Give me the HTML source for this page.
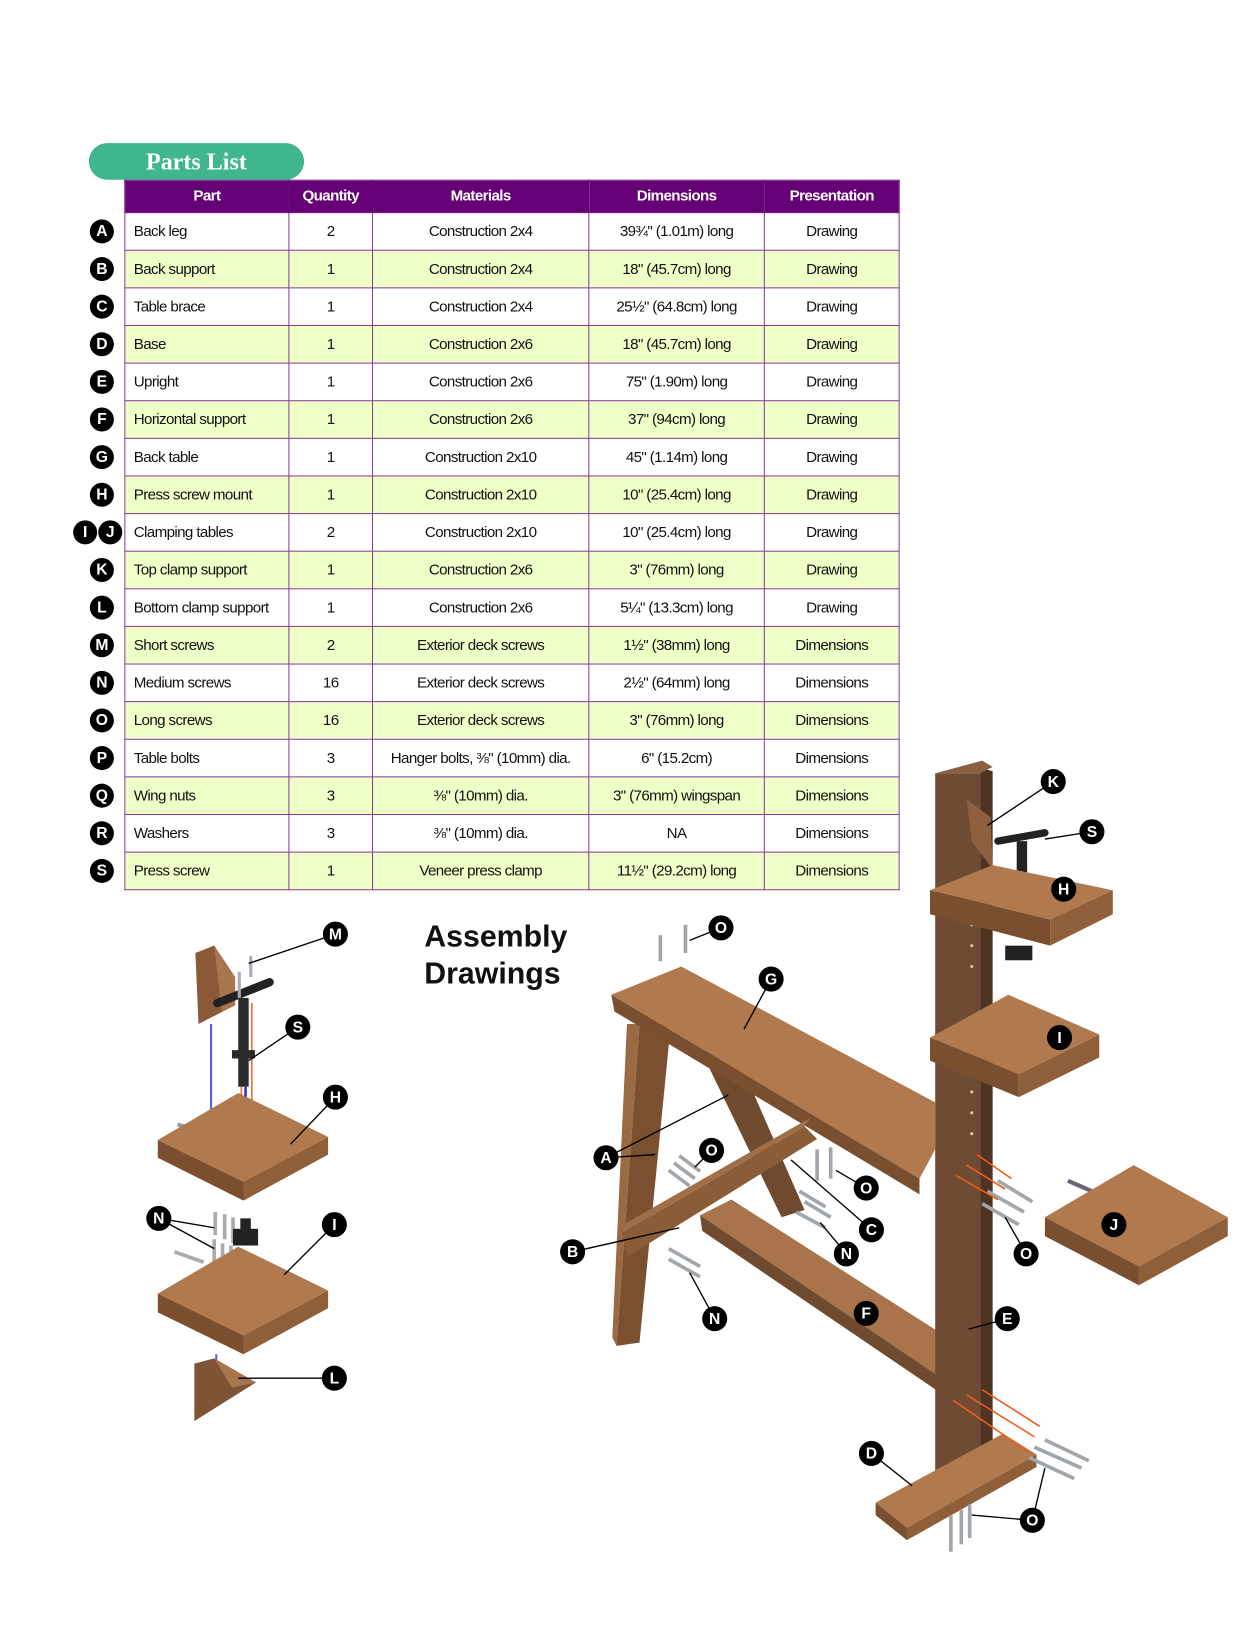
<!DOCTYPE html>
<html><head><meta charset="utf-8">
<style>
html,body{margin:0;padding:0;background:#fff;}
body{width:1256px;height:1631px;overflow:hidden;position:relative;}
#w{position:absolute;left:0;top:0;width:1202px;height:1561px;transform:scale(1.0449);transform-origin:0 0;}
.pill{position:absolute;left:85px;top:137px;width:206px;height:35px;background:#3fb68e;border-radius:18px;color:#fff;font:bold 23px "Liberation Serif",serif;text-align:center;line-height:35px;}
table{position:absolute;left:119px;top:172px;border-collapse:collapse;table-layout:fixed;font-family:"Liberation Sans",sans-serif;font-size:14.5px;letter-spacing:-0.6px;color:#111;}
td,th{border:1.5px solid #8a3d98;padding:0;text-align:center;white-space:nowrap;overflow:hidden;}
tr{height:36px;}
tr.h{height:31px;}
th{background:#660077;color:#fff;font-weight:bold;border-color:#660077;}
td.p{text-align:left;padding-left:8px;}
tr.g td{background:#eeffc8;}
.c{position:absolute;width:23px;height:23px;border-radius:50%;background:#000;color:#fff;font:bold 15px "Liberation Sans",sans-serif;text-align:center;line-height:23px;}
.ad{position:absolute;left:406px;top:880px;font:bold 29px "Liberation Sans",sans-serif;line-height:35px;color:#111;}
svg{position:absolute;left:0;top:0;}
</style></head><body><div id="w">
<div class="pill">Parts List</div>
<table>
<colgroup><col style="width:157px"><col style="width:80px"><col style="width:207px"><col style="width:168px"><col style="width:129px"></colgroup>
<tr class="h"><th>Part</th><th>Quantity</th><th>Materials</th><th>Dimensions</th><th>Presentation</th></tr>
<tr><td class="p">Back leg</td><td>2</td><td>Construction 2x4</td><td>39¾" (1.01m) long</td><td>Drawing</td></tr>
<tr class="g"><td class="p">Back support</td><td>1</td><td>Construction 2x4</td><td>18" (45.7cm) long</td><td>Drawing</td></tr>
<tr><td class="p">Table brace</td><td>1</td><td>Construction 2x4</td><td>25½" (64.8cm) long</td><td>Drawing</td></tr>
<tr class="g"><td class="p">Base</td><td>1</td><td>Construction 2x6</td><td>18" (45.7cm) long</td><td>Drawing</td></tr>
<tr><td class="p">Upright</td><td>1</td><td>Construction 2x6</td><td>75" (1.90m) long</td><td>Drawing</td></tr>
<tr class="g"><td class="p">Horizontal support</td><td>1</td><td>Construction 2x6</td><td>37" (94cm) long</td><td>Drawing</td></tr>
<tr><td class="p">Back table</td><td>1</td><td>Construction 2x10</td><td>45" (1.14m) long</td><td>Drawing</td></tr>
<tr class="g"><td class="p">Press screw mount</td><td>1</td><td>Construction 2x10</td><td>10" (25.4cm) long</td><td>Drawing</td></tr>
<tr><td class="p">Clamping tables</td><td>2</td><td>Construction 2x10</td><td>10" (25.4cm) long</td><td>Drawing</td></tr>
<tr class="g"><td class="p">Top clamp support</td><td>1</td><td>Construction 2x6</td><td>3" (76mm) long</td><td>Drawing</td></tr>
<tr><td class="p">Bottom clamp support</td><td>1</td><td>Construction 2x6</td><td>5¼" (13.3cm) long</td><td>Drawing</td></tr>
<tr class="g"><td class="p">Short screws</td><td>2</td><td>Exterior deck screws</td><td>1½" (38mm) long</td><td>Dimensions</td></tr>
<tr><td class="p">Medium screws</td><td>16</td><td>Exterior deck screws</td><td>2½" (64mm) long</td><td>Dimensions</td></tr>
<tr class="g"><td class="p">Long screws</td><td>16</td><td>Exterior deck screws</td><td>3" (76mm) long</td><td>Dimensions</td></tr>
<tr><td class="p">Table bolts</td><td>3</td><td>Hanger bolts, ⅜" (10mm) dia.</td><td>6" (15.2cm)</td><td>Dimensions</td></tr>
<tr class="g"><td class="p">Wing nuts</td><td>3</td><td>⅜" (10mm) dia.</td><td>3" (76mm) wingspan</td><td>Dimensions</td></tr>
<tr><td class="p">Washers</td><td>3</td><td>⅜" (10mm) dia.</td><td>NA</td><td>Dimensions</td></tr>
<tr class="g"><td class="p">Press screw</td><td>1</td><td>Veneer press clamp</td><td>11½" (29.2cm) long</td><td>Dimensions</td></tr>
</table>
<div class="c" style="left:86px;top:210px">A</div>
<div class="c" style="left:86px;top:246px">B</div>
<div class="c" style="left:86px;top:282px">C</div>
<div class="c" style="left:86px;top:318px">D</div>
<div class="c" style="left:86px;top:354px">E</div>
<div class="c" style="left:86px;top:390px">F</div>
<div class="c" style="left:86px;top:426px">G</div>
<div class="c" style="left:86px;top:462px">H</div>
<div class="c" style="left:70px;top:498px">I</div>
<div class="c" style="left:94px;top:498px">J</div>
<div class="c" style="left:86px;top:534px">K</div>
<div class="c" style="left:86px;top:570px">L</div>
<div class="c" style="left:86px;top:606px">M</div>
<div class="c" style="left:86px;top:642px">N</div>
<div class="c" style="left:86px;top:678px">O</div>
<div class="c" style="left:86px;top:714px">P</div>
<div class="c" style="left:86px;top:750px">Q</div>
<div class="c" style="left:86px;top:786px">R</div>
<div class="c" style="left:86px;top:822px">S</div>
<div class="ad">Assembly<br>Drawings</div>

<svg width="1202" height="1561" viewBox="0 0 1202 1561">
<g stroke="none">
<polygon points="187,912 205,905 225,935 225,962 190,980" fill="#8a5a38"/>
<polygon points="205,905 225,935 225,962 212,968" fill="#a8764c"/>
<line x1="202" y1="980" x2="202" y2="1075" stroke="#5a5af0" stroke-width="2"/>
<line x1="231" y1="960" x2="231" y2="1112" stroke="#f06a20" stroke-width="1.5"/>
<line x1="241" y1="960" x2="241" y2="1108" stroke="#f06a20" stroke-width="1.5"/>
<line x1="235" y1="1040" x2="235" y2="1110" stroke="#3333dd" stroke-width="2.5"/>
<path d="M208,960 L258,940" stroke="#222" stroke-width="8" stroke-linecap="round"/>
<rect x="228" y="955" width="10" height="85" fill="#2a2a2a"/>
<rect x="222" y="1005" width="22" height="8" fill="#2a2a2a"/>
<line x1="229" y1="930" x2="229" y2="955" stroke="#aab" stroke-width="3"/>
<line x1="240" y1="915" x2="240" y2="935" stroke="#aab" stroke-width="3"/>
<line x1="170" y1="1076" x2="198" y2="1086" stroke="#99a" stroke-width="4"/>
<polygon points="151,1091 228,1046 314,1088 233,1131" fill="#b07a4e"/>
<polygon points="151,1091 233,1131 233,1149 151,1108" fill="#7a4f30"/>
<polygon points="233,1131 314,1088 314,1105 233,1149" fill="#8f5f3a"/>
<g stroke="#a9aab0" stroke-width="3.5">
<line x1="206" y1="1160" x2="206" y2="1182"/><line x1="215" y1="1162" x2="215" y2="1186"/><line x1="223" y1="1165" x2="223" y2="1190"/>
<line x1="205" y1="1186" x2="205" y2="1208"/><line x1="213" y1="1190" x2="213" y2="1212"/><line x1="221" y1="1192" x2="221" y2="1218"/>
<line x1="167" y1="1198" x2="195" y2="1208"/>
</g>
<rect x="223" y="1176" width="24" height="16" fill="#222"/>
<rect x="230" y="1166" width="10" height="12" fill="#222"/>
<polygon points="151,1238 228,1193 314,1235 233,1278" fill="#b07a4e"/>
<polygon points="151,1238 233,1278 233,1296 151,1256" fill="#7a4f30"/>
<polygon points="233,1278 314,1235 314,1252 233,1296" fill="#8f5f3a"/>
<line x1="207" y1="1296" x2="207" y2="1312" stroke="#5a5af0" stroke-width="2"/>
<polygon points="186,1305 205,1300 245,1323 186,1360" fill="#7f5434"/>
<polygon points="205,1300 245,1323 222,1328" fill="#a8764c"/>

<polygon points="612,980 642,980 612,1285 590,1288" fill="#7a5030"/>
<polygon points="600,980 612,980 590,1288 586,1280" fill="#9a6a44"/>
<polygon points="672,1008 700,998 770,1158 748,1165" fill="#6f4a2e"/>
<polygon points="585,952 652,925 895,1055 895,1100 880,1128" fill="#b07a4e"/>
<polygon points="585,952 880,1128 880,1143 588,968" fill="#7a4f30"/>
<polygon points="595,1180 770,1078 782,1090 600,1203" fill="#8a5c38"/>
<polygon points="595,1180 770,1078 775,1070 600,1170" fill="#a06e47"/>
<polygon points="670,1163 700,1148 935,1298 925,1335" fill="#a9744b"/>
<polygon points="670,1163 925,1335 925,1350 672,1178" fill="#6f4a2e"/>
<rect x="895" y="740" width="43" height="670" fill="#6f4b33"/>
<polygon points="938,735 950,738 950,1405 938,1410" fill="#4f3422"/>
<polygon points="895,740 940,728 950,734 938,740" fill="#8a6042"/>
<g fill="#d8c8b0"><circle cx="930" cy="885" r="1.5"/><circle cx="930" cy="905" r="1.5"/><circle cx="930" cy="925" r="1.5"/><circle cx="930" cy="1045" r="1.5"/><circle cx="930" cy="1065" r="1.5"/><circle cx="930" cy="1085" r="1.5"/></g>
<polygon points="925,765 948,782 950,832 930,805" fill="#8f6040"/>
<path d="M955,805 L1000,797" stroke="#222" stroke-width="7" stroke-linecap="round"/>
<rect x="973" y="805" width="10" height="50" fill="#222"/>
<rect x="962" y="905" width="26" height="14" fill="#222"/>
<polygon points="890,852 950,828 1065,852 1005,880" fill="#b07a4e"/>
<polygon points="890,852 1005,880 1005,905 890,875" fill="#7a4f30"/>
<polygon points="1005,880 1065,852 1065,875 1005,905" fill="#8f5f3a"/>
<polygon points="890,993 965,952 1052,990 975,1028" fill="#b07a4e"/>
<polygon points="890,993 975,1028 975,1050 890,1015" fill="#7a4f30"/>
<polygon points="975,1028 1052,990 1052,1012 975,1050" fill="#8f5f3a"/>
<line x1="1022" y1="1130" x2="1045" y2="1140" stroke="#667" stroke-width="4"/>
<polygon points="1000,1165 1085,1115 1175,1165 1090,1212" fill="#b07a4e"/>
<polygon points="1000,1165 1090,1212 1090,1230 1000,1183" fill="#7a4f30"/>
<polygon points="1090,1212 1175,1165 1175,1183 1090,1230" fill="#8f5f3a"/>
<polygon points="838,1438 960,1372 992,1392 868,1462" fill="#b07a4e"/>
<polygon points="838,1438 868,1462 868,1474 838,1450" fill="#7a4f30"/>
<polygon points="868,1462 992,1392 992,1404 868,1474" fill="#8f5f3a"/>
<g stroke="#a0a6ac" stroke-width="3.5">
<line x1="632" y1="895" x2="632" y2="920"/><line x1="656" y1="885" x2="656" y2="912"/>
<line x1="640" y1="1120" x2="660" y2="1135"/><line x1="645" y1="1113" x2="665" y2="1128"/><line x1="650" y1="1106" x2="670" y2="1121"/>
<line x1="782" y1="1100" x2="782" y2="1130"/><line x1="795" y1="1098" x2="795" y2="1128"/>
<line x1="765" y1="1140" x2="790" y2="1155"/><line x1="770" y1="1150" x2="795" y2="1165"/><line x1="762" y1="1160" x2="790" y2="1175"/>
<line x1="640" y1="1195" x2="670" y2="1212"/><line x1="640" y1="1205" x2="670" y2="1222"/>
<line x1="945" y1="1140" x2="980" y2="1160"/><line x1="955" y1="1130" x2="988" y2="1150"/><line x1="940" y1="1152" x2="975" y2="1172"/>
<line x1="990" y1="1385" x2="1035" y2="1405"/><line x1="1000" y1="1378" x2="1042" y2="1398"/><line x1="985" y1="1395" x2="1028" y2="1415"/>
<line x1="910" y1="1450" x2="910" y2="1485"/><line x1="920" y1="1445" x2="920" y2="1478"/><line x1="928" y1="1440" x2="928" y2="1472"/>
</g>
<g stroke="#f05a18" stroke-width="1.5">
<line x1="915" y1="1125" x2="955" y2="1148"/><line x1="925" y1="1115" x2="962" y2="1138"/><line x1="935" y1="1105" x2="968" y2="1128"/>
<line x1="912" y1="1340" x2="985" y2="1390"/><line x1="925" y1="1335" x2="990" y2="1375"/><line x1="940" y1="1330" x2="995" y2="1365"/>
</g>
</g>
<g stroke="#000" stroke-width="1.3" fill="none">
<line x1="321" y1="894" x2="238" y2="922"/><line x1="285" y1="983" x2="238" y2="1015"/>
<line x1="321" y1="1050" x2="278" y2="1095"/><line x1="152" y1="1166" x2="205" y2="1175"/><line x1="152" y1="1166" x2="205" y2="1195"/>
<line x1="320" y1="1172" x2="272" y2="1220"/><line x1="320" y1="1319" x2="228" y2="1319"/>
<line x1="1008" y1="748" x2="945" y2="790"/><line x1="1045" y1="796" x2="1000" y2="803"/>
<line x1="738" y1="937" x2="712" y2="985"/><line x1="690" y1="888" x2="660" y2="900"/>
<line x1="580" y1="1108" x2="697" y2="1048"/><line x1="580" y1="1108" x2="627" y2="1105"/>
<line x1="681" y1="1101" x2="665" y2="1117"/><line x1="829" y1="1137" x2="800" y2="1120"/>
<line x1="834" y1="1177" x2="757" y2="1110"/><line x1="810" y1="1200" x2="785" y2="1170"/>
<line x1="548" y1="1198" x2="650" y2="1175"/><line x1="684" y1="1262" x2="660" y2="1218"/>
<line x1="982" y1="1200" x2="962" y2="1165"/><line x1="964" y1="1262" x2="927" y2="1272"/>
<line x1="834" y1="1391" x2="873" y2="1422"/><line x1="988" y1="1455" x2="930" y2="1450"/><line x1="988" y1="1455" x2="1000" y2="1405"/>
</g>
<g font-family="Liberation Sans,sans-serif" font-weight="bold" font-size="15" text-anchor="middle">
<g fill="#000">
<circle cx="321" cy="894" r="12"/><circle cx="285" cy="983" r="12"/><circle cx="321" cy="1050" r="12"/><circle cx="152" cy="1166" r="12"/><circle cx="320" cy="1172" r="12"/><circle cx="320" cy="1319" r="12"/>
<circle cx="1008" cy="748" r="12"/><circle cx="1045" cy="796" r="12"/><circle cx="1018" cy="851" r="12"/><circle cx="1014" cy="993" r="12"/><circle cx="1066" cy="1172" r="12"/>
<circle cx="738" cy="937" r="12"/><circle cx="690" cy="888" r="12"/><circle cx="580" cy="1108" r="12"/><circle cx="681" cy="1101" r="12"/><circle cx="829" cy="1137" r="12"/><circle cx="834" cy="1177" r="12"/><circle cx="810" cy="1200" r="12"/><circle cx="548" cy="1198" r="12"/><circle cx="684" cy="1262" r="12"/><circle cx="982" cy="1200" r="12"/><circle cx="829" cy="1257" r="12"/><circle cx="964" cy="1262" r="12"/><circle cx="834" cy="1391" r="12"/><circle cx="988" cy="1455" r="12"/>
</g>
<g fill="#fff">
<text x="321" y="899">M</text><text x="285" y="988">S</text><text x="321" y="1055">H</text><text x="152" y="1171">N</text><text x="320" y="1177">I</text><text x="320" y="1324">L</text>
<text x="1008" y="753">K</text><text x="1045" y="801">S</text><text x="1018" y="856">H</text><text x="1014" y="998">I</text><text x="1066" y="1177">J</text>
<text x="738" y="942">G</text><text x="690" y="893">O</text><text x="580" y="1113">A</text><text x="681" y="1106">O</text><text x="829" y="1142">O</text><text x="834" y="1182">C</text><text x="810" y="1205">N</text><text x="548" y="1203">B</text><text x="684" y="1267">N</text><text x="982" y="1205">O</text><text x="829" y="1262">F</text><text x="964" y="1267">E</text><text x="834" y="1396">D</text><text x="988" y="1460">O</text>
</g></g>
</svg>
</div></body></html>
